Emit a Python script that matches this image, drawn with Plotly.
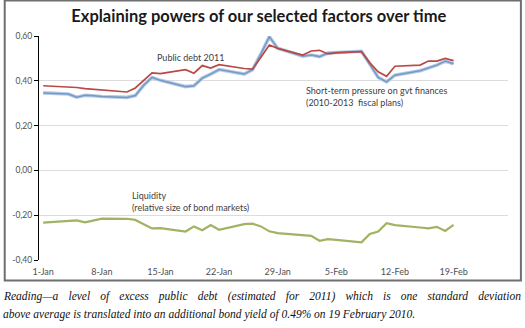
import pandas as pd
import plotly.graph_objects as go

# Daily observations (business days)
dates = [
    "2010-01-01", "2010-01-04", "2010-01-05", "2010-01-06", "2010-01-07", "2010-01-08",
    "2010-01-11", "2010-01-12", "2010-01-13", "2010-01-14", "2010-01-15",
    "2010-01-18", "2010-01-19", "2010-01-20", "2010-01-21", "2010-01-22",
    "2010-01-25", "2010-01-26", "2010-01-27", "2010-01-28", "2010-01-29",
    "2010-02-01", "2010-02-02", "2010-02-03", "2010-02-04", "2010-02-05",
    "2010-02-08", "2010-02-09", "2010-02-10", "2010-02-11", "2010-02-12",
    "2010-02-15", "2010-02-16", "2010-02-17", "2010-02-18", "2010-02-19",
]

public_debt = [
    0.378, 0.374, 0.370, 0.365, 0.362, 0.359,
    0.350, 0.368, 0.402, 0.435, 0.432,
    0.450, 0.434, 0.468, 0.457, 0.472,
    0.455, 0.452, 0.505, 0.560, 0.545,
    0.515, 0.533, 0.536, 0.520, 0.525,
    0.530, 0.480, 0.440, 0.420, 0.465,
    0.470, 0.488, 0.488, 0.500, 0.490,
]

short_term_pressure = [
    0.346, 0.341, 0.327, 0.335, 0.333, 0.330,
    0.326, 0.334, 0.380, 0.415, 0.402,
    0.374, 0.378, 0.412, 0.430, 0.450,
    0.430, 0.450, 0.520, 0.597, 0.545,
    0.510, 0.515, 0.508, 0.524, 0.527,
    0.532, 0.475, 0.415, 0.395, 0.425,
    0.445, 0.458, 0.470, 0.488, 0.476,
]

liquidity = [
    -0.233, -0.226, -0.223, -0.232, -0.222, -0.215,
    -0.216, -0.221, -0.240, -0.259, -0.258,
    -0.273, -0.250, -0.267, -0.244, -0.265,
    -0.240, -0.238, -0.250, -0.272, -0.280,
    -0.287, -0.292, -0.314, -0.307, -0.310,
    -0.321, -0.284, -0.273, -0.236, -0.244,
    -0.255, -0.259, -0.252, -0.270, -0.243,
]

tick_dates = ["2010-01-01", "2010-01-08", "2010-01-15", "2010-01-22",
              "2010-01-29", "2010-02-05", "2010-02-12", "2010-02-19"]
tick_labels = ["1-Jan", "8-Jan", "15-Jan", "22-Jan", "29-Jan", "5-Feb", "12-Feb", "19-Feb"]

y_ticks = [-0.4, -0.2, 0.0, 0.2, 0.4, 0.6]
y_labels = ["-0,40", "-0,20", "0,00", "0,20", "0,40", "0,60"]

# Weekly boundaries sit half a day before each labelled date
half_day = pd.Timedelta(hours=12)
week_edges = list(pd.to_datetime(tick_dates) - half_day)
week_edges.append(week_edges[-1] + pd.Timedelta(days=7))
x_range = [week_edges[0], week_edges[-1]]

fig = go.Figure()

# Short-term pressure: soft wide stroke with a darker core
fig.add_trace(go.Scatter(x=dates, y=short_term_pressure, mode="lines",
                         line=dict(color="#b4cce6", width=3.6),
                         showlegend=False, hoverinfo="skip"))
fig.add_trace(go.Scatter(x=dates, y=short_term_pressure, mode="lines",
                         name="Short-term pressure on gvt finances",
                         line=dict(color="#7898c3", width=1.5),
                         showlegend=False))
fig.add_trace(go.Scatter(x=dates, y=public_debt, mode="lines",
                         name="Public debt 2011",
                         line=dict(color="#bb4845", width=1.7),
                         showlegend=False))
fig.add_trace(go.Scatter(x=dates, y=liquidity, mode="lines",
                         name="Liquidity",
                         line=dict(color="#a0b363", width=2.2),
                         showlegend=False))

label_font = dict(family="Lato, 'Open Sans', sans-serif", size=9, color="#404040")

fig.update_layout(
    width=525, height=328,
    margin=dict(l=36, r=17, t=36, b=68),
    paper_bgcolor="white", plot_bgcolor="white",
    title=dict(text="<b>Explaining powers of our selected factors over time</b>",
               xref="container", x=0.493, xanchor="center",
               yref="container", y=1 - 16 / 328, yanchor="middle",
               font=dict(family="Lato, 'Open Sans', sans-serif", size=16.5, color="#1a1a1a")),
    xaxis=dict(type="date", range=x_range,
               tickmode="array", tickvals=tick_dates, ticktext=tick_labels,
               ticks="", showline=False, showgrid=False, zeroline=False,
               ticklabelstandoff=5,
               tickfont=dict(family="Lato, 'Open Sans', sans-serif", size=9, color="#505050")),
    xaxis2=dict(type="date", range=x_range, overlaying="x", anchor="free", position=0.4,
                side="bottom", showline=True, linecolor="#000000", linewidth=1,
                tickmode="array", tickvals=week_edges, ticks="outside", ticklen=4,
                tickcolor="#000000", tickwidth=1,
                showticklabels=False, showgrid=False, zeroline=False),
    yaxis=dict(range=[-0.4, 0.6], tickmode="array", tickvals=y_ticks, ticktext=y_labels,
               showline=True, linecolor="#000000", linewidth=1.2,
               ticks="outside", ticklen=4, tickcolor="#000000",
               showgrid=True, gridcolor="#dcdcdc", gridwidth=1, zeroline=False,
               tickfont=dict(family="Lato, 'Open Sans', sans-serif", size=8.5, color="#505050")),
)

# Series labels
fig.add_annotation(text="Public debt 2011", xref="paper", yref="paper",
                   x=0.248, y=0.902, xanchor="left", yanchor="middle",
                   showarrow=False, font=label_font)
fig.add_annotation(text="Short-term pressure on gvt finances<br>(2010-2013  fiscal plans)",
                   xref="paper", yref="paper", x=0.566, y=0.728,
                   xanchor="left", yanchor="middle", align="left",
                   showarrow=False, font=label_font)
fig.add_annotation(text="Liquidity<br>(relative size of bond markets)",
                   xref="paper", yref="paper", x=0.193, y=0.261,
                   xanchor="left", yanchor="middle", align="left",
                   showarrow=False, font=label_font)

# Frame around the chart
fig.add_shape(type="rect", xref="paper", yref="paper",
              x0=-0.0731, x1=1.0275, y0=-0.0915, y1=1.1585,
              line=dict(color="#6e6e6e", width=2), fillcolor="rgba(0,0,0,0)")

# Caption below the frame
caption_font = dict(family="'Liberation Serif', 'Times New Roman', serif", size=11.5,
                    color="#111111", style="italic")
fig.add_annotation(text="Reading\u2014a level of excess public debt (estimated for 2011) which is one standard deviation",
                   xref="paper", yref="paper", x=-0.0699, y=-0.165,
                   xanchor="left", yanchor="middle", showarrow=False,
                   font=caption_font)
fig.add_annotation(text="above average is translated into an additional bond yield of 0.49% on 19 February 2010.",
                   xref="paper", yref="paper", x=-0.0699, y=-0.2455,
                   xanchor="left", yanchor="middle", showarrow=False,
                   font=caption_font)

# Caption layout: left edge 3px inside the figure; first line justified to the frame width
caption_js = """
(function(){
  var gd = document.getElementById('{plot_id}');
  var lines = [
    {start: 'Reading', left: 3, width: 517},
    {start: 'above average', left: 3, width: 0}
  ];
  function place(){
    var origin = gd.getBoundingClientRect().left;
    var texts = gd.querySelectorAll('text.annotation-text');
    texts.forEach(function(t){
      lines.forEach(function(spec){
        if (t.textContent.indexOf(spec.start) !== 0) return;
        t.removeAttribute('transform');
        t.setAttribute('text-anchor', 'start');
        t.style.wordSpacing = '0px';
        if (spec.width > 0) {
          var w = t.getComputedTextLength();
          var n = (t.textContent.match(/ /g) || []).length;
          if (n > 0 && w < spec.width) {
            t.style.wordSpacing = ((spec.width - w) / n) + 'px';
          }
        }
        var r = t.getBoundingClientRect();
        var dx = (origin + spec.left) - r.left;
        t.setAttribute('transform', 'translate(' + dx + ',0)');
      });
    });
  }
  place();
  if (gd.on) { gd.on('plotly_afterplot', place); }
})();
"""

fig.write_html("out.html", post_script=caption_js)
